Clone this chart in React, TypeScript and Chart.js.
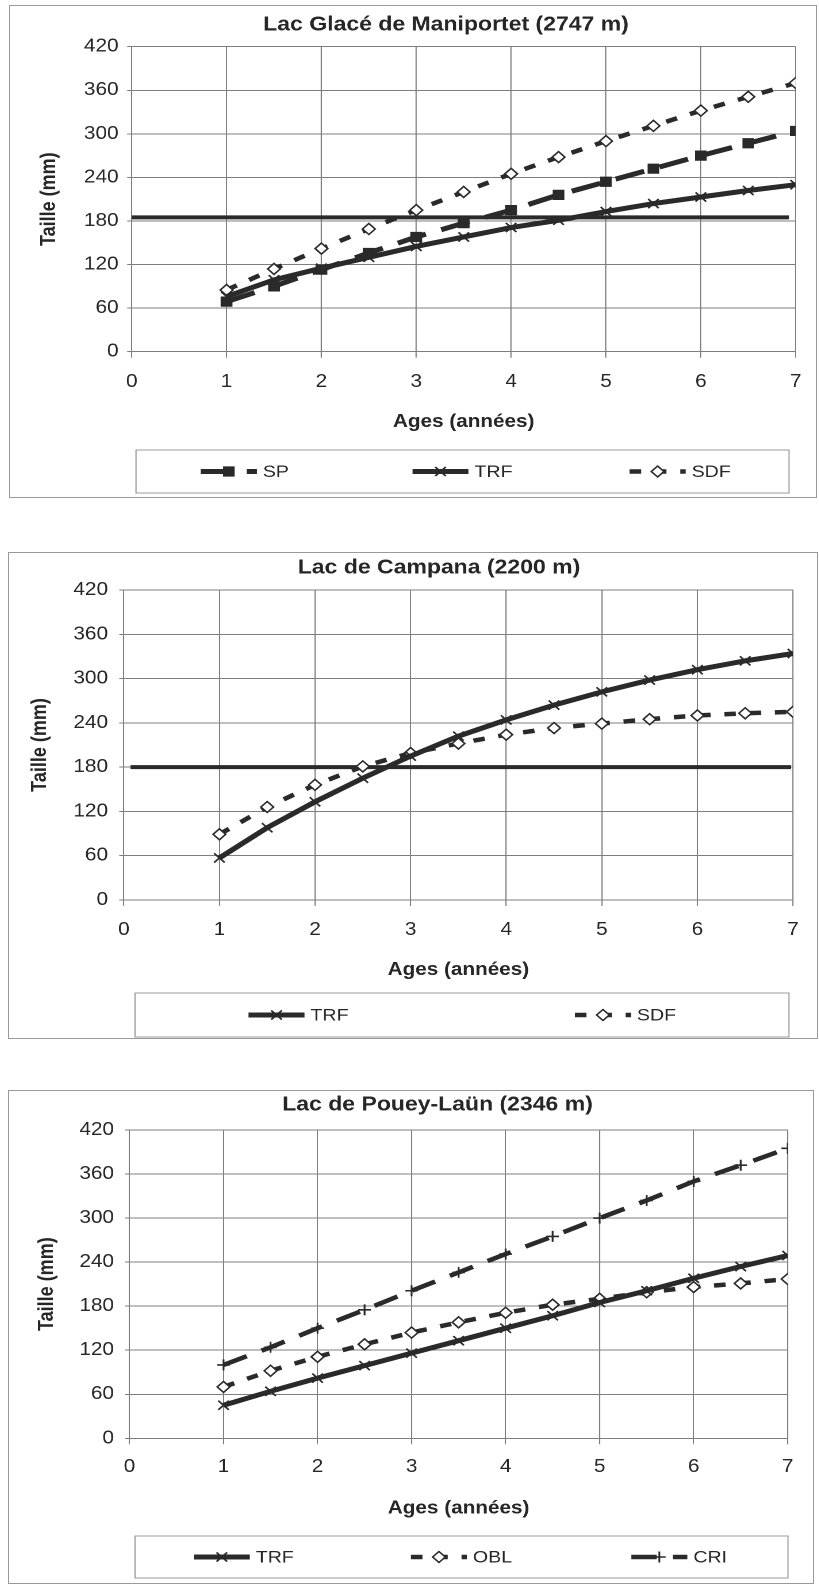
import React, { useEffect, useRef } from 'react';
import { Chart, registerables } from 'chart.js';

Chart.register(...registerables);

// Horizontal stretch applied to each drawing (the figures are wider than tall-set text)
const STRETCH = 1.15;
const FONT = '"Liberation Sans", Arial, Helvetica, sans-serif';
const INK = '#2a2a2a';
const TEXT = '#262626';
const GRID = '#7e7e7e';
const FRAME = '#9a9a9a';

// Axes
const xTickValues = [0, 1, 2, 3, 4, 5, 6, 7];
const yTickValues = [0, 60, 120, 180, 240, 300, 360, 420];

// Ages (années) at which sizes are given
const ages = [1, 1.5, 2, 2.5, 3, 3.5, 4, 4.5, 5, 5.5, 6, 6.5, 7];

// Lac Glacé de Maniportet (2747 m) — taille (mm)
const maniportetSP = [69, 90, 113, 136, 158, 177, 195, 216, 234, 252, 270, 287, 304];
const maniportetTRF = [76, 99, 115, 130, 145, 158, 171, 181, 193, 204, 213, 222, 230];
const maniportetSDF = [85, 114, 142, 169, 195, 220, 245, 268, 290, 311, 332, 351, 370];
const maniportetSeuilX = [0, 6.93];
const maniportetSeuilY = [185, 185];

// Lac de Campana (2200 m)
const campanaTRF = [57, 98, 133, 165, 195, 222, 244, 264, 282, 298, 312, 324, 334];
const campanaSDF = [89, 126, 156, 181, 199, 212, 224, 233, 239, 245, 250, 253, 255];
const campanaSeuilX = [0.07, 6.98];
const campanaSeuilY = [180, 180];

// Lac de Pouey-Laün (2346 m)
const poueyTRF = [45, 64, 82, 99, 116, 133, 150, 167, 185, 201, 218, 234, 249];
const poueyOBL = [70, 92, 111, 128, 144, 158, 171, 182, 190, 199, 206, 211, 217];
const poueyCRI = [100, 124, 150, 175, 201, 226, 251, 275, 300, 324, 350, 372, 395];

// Line / marker styles per population
const STYLE: any = {
  SP: { dash: [26, 14], width: 5, point: 'rect', radius: 6.5, fill: INK, pw: 1 },
  TRF: { dash: [], width: 5, point: 'crossRot', radius: 6.5, fill: INK, pw: 1.6 },
  SDF: { dash: [10, 12], width: 4.5, point: 'rectRot', radius: 5.5, fill: '#ffffff', pw: 1.5 },
  OBL: { dash: [10, 12], width: 4.5, point: 'rectRot', radius: 5.5, fill: '#ffffff', pw: 1.5 },
  CRI: { dash: [22, 14], width: 4.5, point: 'cross', radius: 5.5, fill: INK, pw: 1.6 },
};

function series(label: string, values: number[]) {
  const st = STYLE[label];
  return {
    label,
    data: ages.map((a, i) => ({ x: a, y: values[i] })),
    borderColor: INK,
    borderWidth: st.width,
    borderDash: st.dash,
    borderCapStyle: 'butt',
    pointStyle: st.point,
    pointRadius: st.radius,
    pointBackgroundColor: st.fill,
    pointBorderColor: INK,
    pointBorderWidth: st.pw,
    tension: 0,
    fill: false,
  };
}

function seuil(xs: number[], ys: number[]) {
  return {
    label: '',
    data: xs.map((x, i) => ({ x, y: ys[i] })),
    borderColor: INK,
    borderWidth: 4,
    pointRadius: 0,
    tension: 0,
    fill: false,
  };
}

function drawMarker(ctx: CanvasRenderingContext2D, style: string, r: number, x: number, y: number, fill: string, stroke: string, lw: number) {
  ctx.save();
  ctx.setLineDash([]);
  ctx.lineWidth = lw;
  ctx.strokeStyle = stroke;
  ctx.fillStyle = fill;
  ctx.beginPath();
  if (style === 'rect') {
    const s = Math.SQRT1_2 * r;
    ctx.rect(x - s, y - s, 2 * s, 2 * s);
    ctx.fill();
    ctx.stroke();
  } else if (style === 'rectRot') {
    ctx.moveTo(x - r, y);
    ctx.lineTo(x, y - r);
    ctx.lineTo(x + r, y);
    ctx.lineTo(x, y + r);
    ctx.closePath();
    ctx.fill();
    ctx.stroke();
  } else if (style === 'cross') {
    ctx.moveTo(x - r, y);
    ctx.lineTo(x + r, y);
    ctx.moveTo(x, y - r);
    ctx.lineTo(x, y + r);
    ctx.stroke();
  } else {
    const d = Math.SQRT1_2 * r;
    ctx.moveTo(x - d, y - d);
    ctx.lineTo(x + d, y + d);
    ctx.moveTo(x + d, y - d);
    ctx.lineTo(x - d, y + d);
    ctx.stroke();
  }
  ctx.restore();
}

// Title and boxed legend drawn on the chart canvas
const decorPlugin = {
  id: 'decor',
  afterDraw(chart: any, _args: any, opts: any) {
    const ctx: CanvasRenderingContext2D = chart.ctx;
    ctx.save();
    ctx.fillStyle = TEXT;
    ctx.font = `bold ${opts.titleSize}px ${FONT}`;
    ctx.textAlign = 'center';
    ctx.textBaseline = 'middle';
    ctx.fillText(opts.title, opts.titleX, opts.titleY);

    const b = opts.box;
    ctx.strokeStyle = FRAME;
    ctx.lineWidth = 1;
    ctx.setLineDash([]);
    ctx.strokeRect(b.l, b.t, b.r - b.l, b.b - b.t);

    const items = chart.data.datasets.filter((d: any) => d.label);
    const colW = (b.r - b.l) / items.length;
    const cy = (b.t + b.b) / 2;
    ctx.font = `${opts.legendSize}px ${FONT}`;
    items.forEach((d: any, i: number) => {
      const cx = b.l + colW * (i + 0.5);
      const tw = ctx.measureText(d.label).width;
      const x0 = cx - (opts.sampleW + opts.gap + tw) / 2;
      ctx.beginPath();
      ctx.setLineDash(d.borderDash || []);
      ctx.lineWidth = d.borderWidth;
      ctx.strokeStyle = d.borderColor;
      ctx.lineCap = 'butt';
      ctx.moveTo(x0, cy);
      ctx.lineTo(x0 + opts.sampleW, cy);
      ctx.stroke();
      ctx.setLineDash([]);
      drawMarker(ctx, d.pointStyle, d.pointRadius, x0 + opts.sampleW / 2, cy, d.pointBackgroundColor, d.pointBorderColor, d.pointBorderWidth);
      ctx.fillStyle = TEXT;
      ctx.textAlign = 'left';
      ctx.textBaseline = 'middle';
      ctx.fillText(d.label, x0 + opts.sampleW + opts.gap, cy + 1);
    });
    ctx.restore();
  },
};

const TICK_SIZE = 18;
const AXIS_TITLE_SIZE = 18;

function buildConfig(spec: any): any {
  const S = STRETCH;
  const f = spec.frame;
  const ix = (px: number) => (px - f.l) / S;
  const iy = (py: number) => py - f.t;
  const W = Math.round(f.w / S);
  const H = f.h;
  const lhTick = TICK_SIZE * 1.2;
  const lhTitle = AXIS_TITLE_SIZE * 1.2;
  const titlePad = 4;

  const padLeft = ix(spec.yTitleX) - lhTitle / 2 - titlePad;
  const padTop = iy(spec.plot.t);
  const padRight = W - ix(spec.plot.r);
  const xAxisBottom = iy(spec.xTitleY) + lhTitle / 2 + titlePad;
  const padBottom = H - xAxisBottom;
  const yAxisWidth = ix(spec.plot.l) - padLeft;
  const xAxisHeight = xAxisBottom - iy(spec.plot.b);
  const xTickLen = 6;
  const xTickPad = spec.xTickY - spec.plot.b - xTickLen - lhTick / 2;
  const yTickLen = 4;
  const yTickPad = (spec.plot.l - spec.yTickRight) / S - yTickLen;

  const tickFont = { family: FONT, size: TICK_SIZE };
  const titleFont = { family: FONT, size: AXIS_TITLE_SIZE, weight: 'bold' };

  return {
    type: 'line',
    data: { datasets: spec.datasets },
    plugins: [decorPlugin],
    options: {
      responsive: false,
      animation: false,
      devicePixelRatio: 2,
      events: [],
      layout: { padding: { left: padLeft, right: padRight, top: padTop, bottom: padBottom } },
      plugins: {
        legend: { display: false },
        title: { display: false },
        tooltip: { enabled: false },
        decor: {
          title: spec.title.text,
          titleX: ix(spec.title.x),
          titleY: iy(spec.title.y),
          titleSize: 20,
          legendSize: 17,
          sampleW: 56 / S,
          gap: 6 / S,
          box: {
            l: ix(spec.legend.l),
            r: ix(spec.legend.r),
            t: iy(spec.legend.t),
            b: iy(spec.legend.b),
          },
        },
      },
      scales: {
        x: {
          type: 'linear',
          min: xTickValues[0],
          max: xTickValues[xTickValues.length - 1],
          afterBuildTicks: (s: any) => {
            s.ticks = xTickValues.map((v) => ({ value: v }));
          },
          afterFit: (s: any) => {
            s.height = xAxisHeight;
          },
          grid: { color: GRID, lineWidth: 1, drawTicks: true, tickLength: xTickLen, tickColor: GRID },
          border: { color: GRID, width: 1 },
          ticks: { padding: xTickPad, color: TEXT, font: tickFont, maxRotation: 0, autoSkip: false },
          title: { display: true, text: 'Ages (années)', color: TEXT, font: titleFont, padding: { top: titlePad, bottom: titlePad } },
        },
        y: {
          type: 'linear',
          min: yTickValues[0],
          max: yTickValues[yTickValues.length - 1],
          afterBuildTicks: (s: any) => {
            s.ticks = yTickValues.map((v) => ({ value: v }));
          },
          afterFit: (s: any) => {
            s.width = yAxisWidth;
          },
          grid: { color: GRID, lineWidth: 1, drawTicks: true, tickLength: yTickLen, tickColor: GRID },
          border: { color: GRID, width: 1 },
          ticks: { padding: yTickPad, color: TEXT, font: tickFont, autoSkip: false },
          title: { display: true, text: 'Taille (mm)', color: TEXT, font: titleFont, padding: { top: titlePad, bottom: titlePad } },
        },
      },
    },
  };
}

const charts = [
  {
    key: 'maniportet',
    title: { text: 'Lac Glacé de Maniportet (2747 m)', x: 446, y: 25 },
    frame: { l: 9, t: 5, w: 808, h: 493 },
    plot: { l: 131.7, r: 795.7, t: 46.7, b: 351.7 },
    yTitleX: 49,
    yTickRight: 118.5,
    xTickY: 382,
    xTitleY: 422,
    legend: { l: 136, t: 450, r: 789, b: 493 },
    datasets: [
      series('SP', maniportetSP),
      series('TRF', maniportetTRF),
      series('SDF', maniportetSDF),
      seuil(maniportetSeuilX, maniportetSeuilY),
    ],
  },
  {
    key: 'campana',
    title: { text: 'Lac de Campana (2200 m)', x: 439, y: 568 },
    frame: { l: 8, t: 552, w: 810, h: 487 },
    plot: { l: 123.8, r: 793, t: 590, b: 900 },
    yTitleX: 40.5,
    yTickRight: 108,
    xTickY: 930,
    xTitleY: 970,
    legend: { l: 135, t: 993, r: 789, b: 1037 },
    datasets: [
      series('TRF', campanaTRF),
      series('SDF', campanaSDF),
      seuil(campanaSeuilX, campanaSeuilY),
    ],
  },
  {
    key: 'pouey',
    title: { text: 'Lac de Pouey-Laün (2346 m)', x: 437.5, y: 1105 },
    frame: { l: 8, t: 1090, w: 806, h: 494 },
    plot: { l: 129.5, r: 787.7, t: 1130, b: 1438.3 },
    yTitleX: 47,
    yTickRight: 114,
    xTickY: 1467,
    xTitleY: 1508.3,
    legend: { l: 135, t: 1536, r: 788, b: 1578 },
    datasets: [
      series('TRF', poueyTRF),
      series('OBL', poueyOBL),
      series('CRI', poueyCRI),
    ],
  },
];

function LakeChart({ spec }: { spec: any }) {
  const ref = useRef<HTMLCanvasElement | null>(null);
  useEffect(() => {
    if (!ref.current) return;
    const chart = new Chart(ref.current, buildConfig(spec));
    return () => chart.destroy();
  }, [spec]);
  const f = spec.frame;
  return (
    <div
      style={{
        position: 'absolute',
        left: f.l,
        top: f.t,
        width: f.w,
        height: f.h,
        boxSizing: 'border-box',
        border: `1px solid ${FRAME}`,
        overflow: 'hidden',
        background: '#ffffff',
      }}
    >
      <canvas
        ref={ref}
        width={Math.round(f.w / STRETCH)}
        height={f.h}
        style={{ position: 'absolute', left: -1, top: -1, transform: `scaleX(${STRETCH})`, transformOrigin: '0 0' }}
      />
    </div>
  );
}

export default function App() {
  return (
    <div>
      {charts.map((c) => (
        <LakeChart key={c.key} spec={c} />
      ))}
    </div>
  );
}
